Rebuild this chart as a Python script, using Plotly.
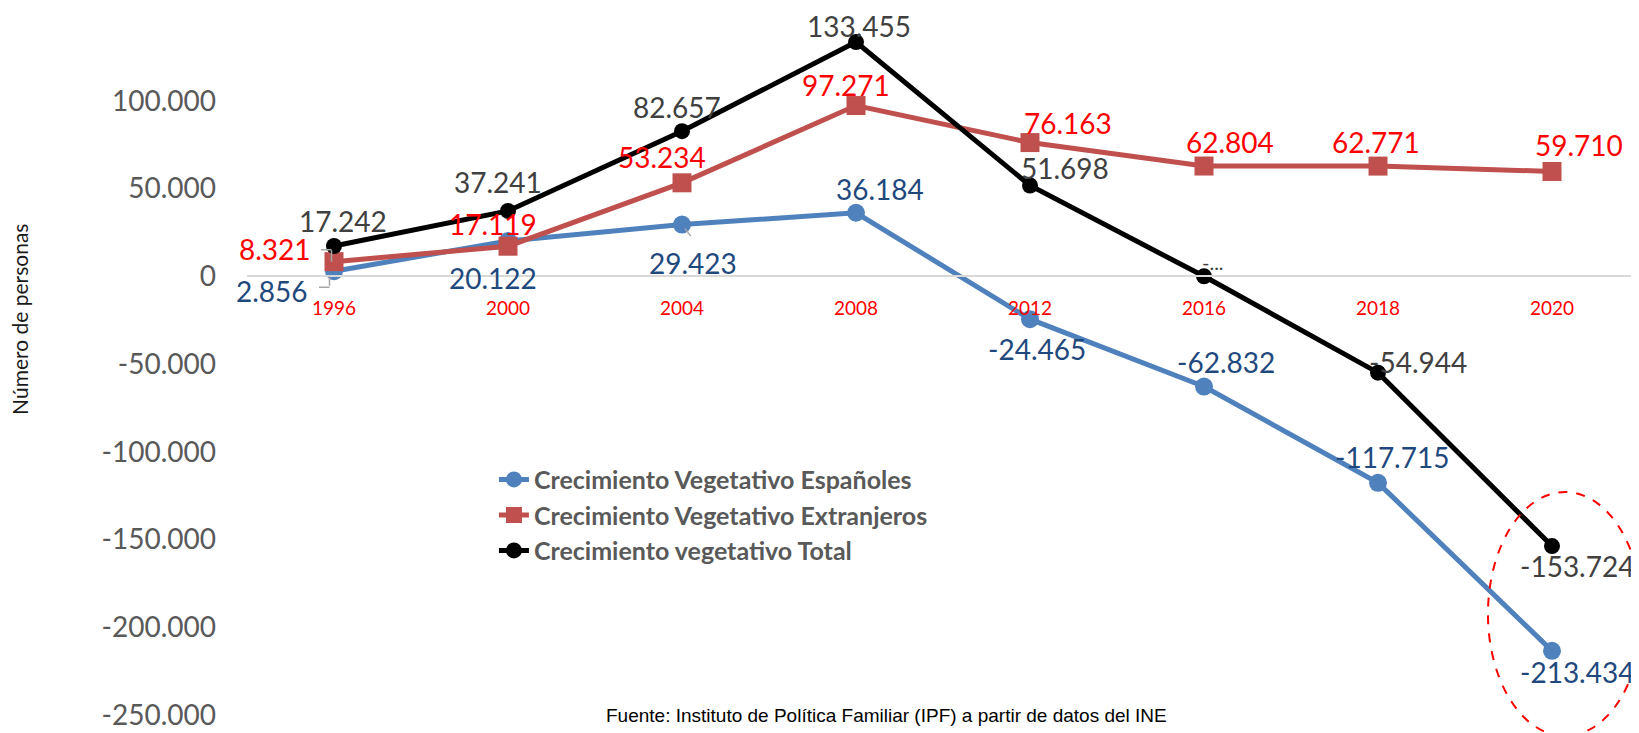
import plotly.graph_objects as go

years = ["1996", "2000", "2004", "2008", "2012", "2016", "2018", "2020"]
espanoles = [2856, 20122, 29423, 36184, -24465, -62832, -117715, -213434]
extranjeros = [8321, 17119, 53234, 97271, 76163, 62804, 62771, 59710]
total = [17242, 37241, 82657, 133455, 51698, -28, -54944, -153724]

series_names = [
    "Crecimiento Vegetativo Españoles",
    "Crecimiento Vegetativo Extranjeros",
    "Crecimiento vegetativo Total",
]

y_tick_vals = [100000, 50000, 0, -50000, -100000, -150000, -200000, -250000]
y_tick_text = ["100.000", "50.000", "0", "-50.000", "-100.000", "-150.000", "-200.000", "-250.000"]


def fmt(v):
    s = f"{abs(v):,}".replace(",", ".")
    return ("-" if v < 0 else "") + s


esp_labels = [fmt(v) for v in espanoles]
ext_labels = [fmt(v) for v in extranjeros]
tot_labels = [fmt(v) for v in total]
tot_labels[5] = "-..."  # truncated label as shown in the source

xpos = list(range(len(years)))

# label offsets in pixels (dx right, dy down) -- styling only
esp_off = [(-62, 20), (-15, 37), (11, 38), (24, -24), (7, 30), (22, -25), (14, -26), (25, 21)]
ext_off = [(-59, -13), (-15, -22), (-20, -26), (-10, -21), (38, -20), (26, -24), (-2, -24), (27, -26)]
tot_off = [(9, -25), (-10, -29), (-5, -24), (3, -16), (35, -18), (9, -14), (40, -11), (25, 20)]

BLUE = "#4F81BD"
RED = "#C0504D"
BLACK = "#000000"
FONT = "Lato"

fig = go.Figure()
fig.add_trace(go.Scatter(
    x=xpos, y=espanoles, name=series_names[0], mode="lines+markers",
    line=dict(color=BLUE, width=5), marker=dict(symbol="circle", size=18, color=BLUE),
))
fig.add_trace(go.Scatter(
    x=xpos, y=extranjeros, name=series_names[1], mode="lines+markers",
    line=dict(color=RED, width=5), marker=dict(symbol="square", size=19, color=RED),
))
fig.add_trace(go.Scatter(
    x=xpos, y=total, name=series_names[2], mode="lines+markers",
    line=dict(color=BLACK, width=5), marker=dict(symbol="circle", size=16, color=BLACK),
))

annotations = []
for vals, labels, offs, col in [
    (espanoles, esp_labels, esp_off, "#1F497D"),
    (extranjeros, ext_labels, ext_off, "#FF0000"),
    (total, tot_labels, tot_off, "#404040"),
]:
    for x, v, t, (dx, dy) in zip(xpos, vals, labels, offs):
        small = t == "-..."
        annotations.append(dict(
            x=x, y=v, xref="x", yref="y", text=t, showarrow=False,
            xshift=dx, yshift=-dy, xanchor="center", yanchor="middle",
            font=dict(family=FONT, size=20 if small else 28, color=col),
        ))

# small grey leader lines of the data labels (point index, series values, shift, tail offset)
leaders = [
    (0, extranjeros, (-2.5, 12), (-12, 0)),
    (0, extranjeros, (-2.5, 0), (0, -13)),
    (0, espanoles, (-4.5, -16), (-12, 0)),
    (0, espanoles, (-4.5, -5), (0, 11)),
    (2, espanoles, (3, -4), (7, 9)),
]
for i, vals, (sx, sy), (ax, ay) in leaders:
    annotations.append(dict(
        x=xpos[i], y=vals[i], xref="x", yref="y", text="", showarrow=True,
        arrowhead=0, arrowwidth=1.5, arrowcolor="#A6A6A6",
        xshift=sx, yshift=sy, ax=ax, ay=ay, standoff=0, startstandoff=0,
    ))

# axis title
annotations.append(dict(
    x=-0.163, y=0.563, xref="paper", yref="paper", text="Número de personas",
    textangle=-90, showarrow=False, xanchor="center", yanchor="middle",
    font=dict(family=FONT, size=21, color="#1a1a1a"),
))
# source
annotations.append(dict(
    x=0.4595, y=0.0, xref="paper", yref="paper",
    text="Fuente: Instituto de Política Familiar (IPF) a partir de datos del INE",
    showarrow=False, xanchor="center", yanchor="middle",
    font=dict(family="Liberation Sans Narrow, Liberation Sans, Arial", size=19, color="#000000"),
))

fig.update_layout(
    width=1631, height=725,
    margin=dict(l=239, r=0, t=5, b=18, autoexpand=False),
    paper_bgcolor="white", plot_bgcolor="white",
    font=dict(family=FONT),
    showlegend=True,
    legend=dict(
        x=0.1774, y=0.368, xanchor="left", yanchor="top",
        font=dict(family=FONT, size=25, color="#595959", weight="bold"),
        bgcolor="rgba(0,0,0,0)", tracegroupgap=0,
    ),
    xaxis=dict(
        range=[-0.5, 7.5], tickvals=xpos, ticktext=years,
        anchor="free", position=(715 - 276) / 702,
        showline=True, linecolor="#D9D9D9", linewidth=2,
        showgrid=False, zeroline=False, ticks="",
        tickfont=dict(family=FONT, size=19, color="#FF0000"),
        ticklabelstandoff=15,
    ),
    yaxis=dict(
        range=[-250000, 150000],
        tickvals=y_tick_vals, ticktext=y_tick_text,
        showline=False, showgrid=False, zeroline=False, ticks="",
        tickfont=dict(family=FONT, size=28, color="#595959"),
        ticklabelstandoff=30,
    ),
    annotations=annotations,
    shapes=[dict(
        type="circle", xref="paper", yref="paper",
        x0=0.8915, x1=1.0022, y0=-0.0299, y1=0.3177,
        line=dict(color="#FF0000", width=2, dash="dash"),
    )],
)

fig.write_html("out.html")
